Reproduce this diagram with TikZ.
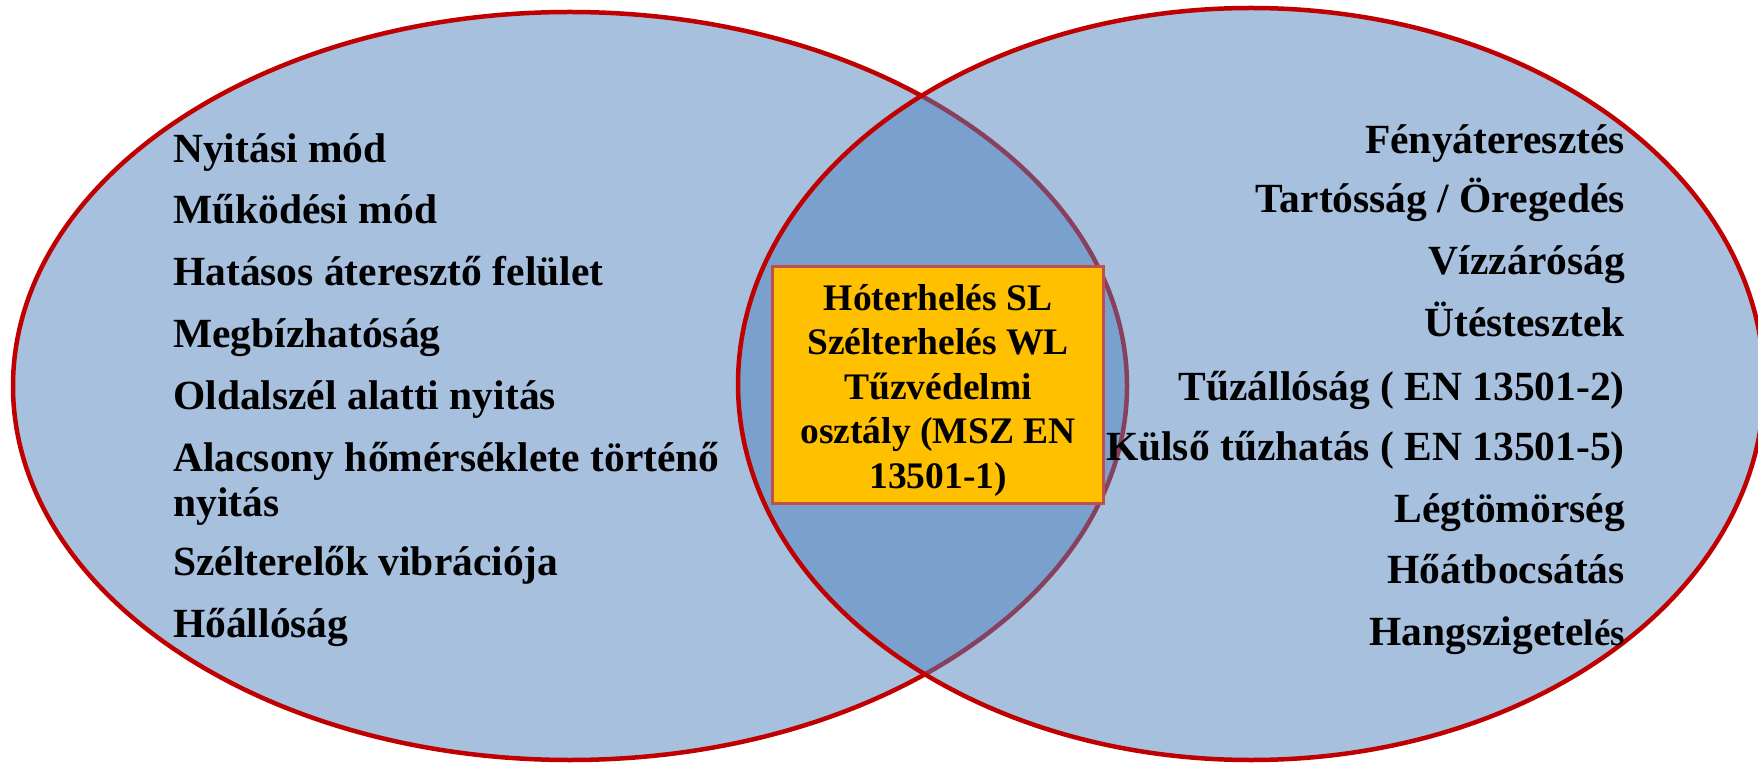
\documentclass[tikz,border=0pt]{standalone}
\usepackage{fontspec}
\setmainfont{Liberation Serif}
\definecolor{vblue}{HTML}{4F81BD}
\definecolor{vred}{HTML}{C00000}
\definecolor{boxred}{HTML}{C0504D}
\definecolor{boxfill}{HTML}{FFC000}
\begin{document}
\begin{tikzpicture}[x=1pt,y=1pt,
  venn/.style={fill=vblue, fill opacity=0.5, draw=vred, draw opacity=1, line width=4.5pt},
  item/.style={font=\fontsize{41.5}{45}\selectfont\bfseries, inner sep=0pt},
  lefti/.style={item, anchor=base west},
  righti/.style={item, anchor=base east},
  midbox/.style={draw=boxred, fill=boxfill, line width=3pt, minimum width=331pt, minimum height=237pt, inner sep=0pt},
  midtext/.style={font=\fontsize{37.5}{44.5}\selectfont\bfseries, align=center, inner sep=0pt}]
\useasboundingbox (0,0) rectangle (1758,764);
\clip (0,0) rectangle (1758,764);
\path[venn] (570,378) ellipse [x radius=557, y radius=374];
\path[venn] (1251,380) ellipse [x radius=513, y radius=376];
% left items
\node[lefti] (l1) at (173,601) {Nyitási mód};
\node[lefti] (l2) at (173,540) {Működési mód};
\node[lefti] (l3) at (173,478) {Hatásos áteresztő felület};
\node[lefti] (l4) at (173,416) {Megbízhatóság};
\node[lefti] (l5) at (173,355) {Oldalszél alatti nyitás};
\node[lefti] (l6a) at (173,293) {Alacsony hőmérséklete történő};
\node[lefti] (l6b) at (173,248) {nyitás};
\node[lefti] (l7) at (173,189) {Szélterelők vibrációja};
\node[lefti] (l8) at (173,127) {Hőállóság};
% right items
\node[righti] (r1) at (1625,610) {Fényáteresztés};
\node[righti] (r2) at (1625,551) {Tartósság / Öregedés};
\node[righti] (r3) at (1625,489) {Vízzáróság};
\node[righti] (r4) at (1625,427) {Ütéstesztek};
\node[righti] (r5) at (1625,363) {Tűzállóság ( EN 13501-2)};
\node[righti] (r6) at (1625,304) {Külső tűzhatás ( EN 13501-5)};
\node[righti] (r7) at (1625,242) {Légtömörség};
\node[righti] (r8) at (1625,181) {Hőátbocsátás};
\node[righti] (r9) at (1625,119) {Hangszigete{\fontsize{37}{40}\selectfont lés}};
% centre box
\node[midbox] (box) at (938,379) {};
\node[midtext] (boxt) at (938,374) {Hóterhelés SL\\Szélterhelés WL\\Tűzvédelmi\\osztály (MSZ EN\\13501-1)};
\end{tikzpicture}
\end{document}
